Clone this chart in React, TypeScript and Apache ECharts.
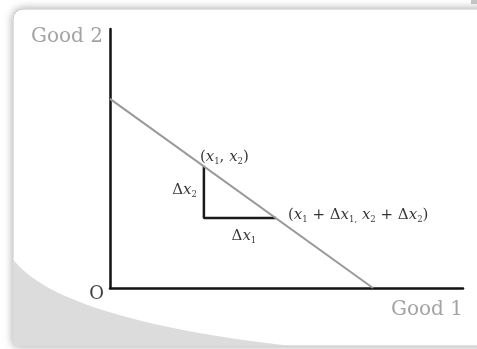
import React, { useEffect, useRef } from "react";
import * as echarts from "echarts";

// data (abstract units)
const axisMax = [10, 10];
const budgetLine: [number, number][] = [
  [0, 7.3],
  [7.45, 0],
];
const pointA: [number, number] = [2.66, 4.69];
const pointB: [number, number] = [4.7, 2.7];
const corner: [number, number] = [pointA[0], pointB[1]];
const axisNames = ["Good 1", "Good 2"];
const originLabel = "O";

const SERIF = "'DejaVu Serif', 'Liberation Serif', serif";

const mathRich = {
  n: { fontFamily: SERIF, fontSize: 15, color: "#000" },
  i: { fontFamily: SERIF, fontSize: 15, fontStyle: "italic", color: "#000" },
  s: { fontFamily: SERIF, fontSize: 8.5, color: "#000", padding: [10, 0, 0, 0] },
};

const labelA = "{n|(}{i|x}{s|1}{n|, }{i|x}{s|2}{n|)}";
const labelB = "{n|(}{i|x}{s|1}{n| + Δ}{i|x}{s|1,}{n| }{i|x}{s|2}{n| + Δ}{i|x}{s|2}{n|)}";
const labelDx1 = "{n|Δ}{i|x}{s|1}";
const labelDx2 = "{n|Δ}{i|x}{s|2}";

export default function App() {
  const ref = useRef<HTMLDivElement>(null);
  useEffect(() => {
    if (!ref.current) return;
    echarts.graphic.registerShape(
      "swoosh",
      echarts.graphic.extendPath(
        "M13,259 C35,290 110,326 292,346 L17,346 Q13,346 13,342 Z",
        {}
      )
    );
    const chart = echarts.init(ref.current, null, { renderer: "svg" });
    const mk = (
      value: [number, number],
      text: string,
      align: string,
      offset: [number, number],
      extra: any = {}
    ) => ({
      value,
      label: {
        show: true,
        formatter: text,
        position: [0, 0],
        align,
        verticalAlign: "middle",
        offset,
        rich: mathRich,
        ...extra,
      },
    });
    const axisCommon = {
      type: "value",
      min: 0,
      axisLine: { show: true, lineStyle: { color: "#111", width: 2.5 } },
      axisTick: { show: false },
      axisLabel: { show: false },
      splitLine: { show: false },
    };
    chart.setOption({
      animation: false,
      graphic: [
        {
          type: "rect",
          z: -20,
          shape: { x: 13, y: 9, width: 490, height: 337, r: [10, 0, 0, 4] },
          style: {
            fill: "#fff",
            stroke: "#c4c4c4",
            lineWidth: 1,
            shadowBlur: 8,
            shadowColor: "rgba(0,0,0,0.35)",
          },
        },
        {
          type: "swoosh",
          z: -19,
          style: { fill: "#dcdcdc" },
        },
        {
          type: "rect",
          z: -21,
          shape: { x: 471, y: 0, width: 6, height: 4 },
          style: { fill: "#c8c8c8" },
        },
      ],
      grid: { left: 110, right: 14, top: 29, bottom: 61 },
      xAxis: { ...axisCommon, max: axisMax[0] },
      yAxis: { ...axisCommon, max: axisMax[1] },
      series: [
        {
          type: "line",
          data: budgetLine,
          symbol: "none",
          lineStyle: { color: "#999", width: 2 },
          z: 3,
        },
        {
          type: "line",
          data: [pointA, corner, pointB],
          symbol: "none",
          lineStyle: { color: "#1a1a1a", width: 2.5 },
          z: 2,
        },
        {
          type: "scatter",
          symbolSize: 0,
          z: 5,
          silent: true,
          data: [
            mk(pointA, labelA, "left", [-4, -11]),
            mk(
              [pointA[0], (pointA[1] + corner[1]) / 2],
              labelDx2,
              "right",
              [-7, -3]
            ),
            mk(
              [(corner[0] + pointB[0]) / 2, corner[1]],
              labelDx1,
              "center",
              [4, 17]
            ),
            mk(pointB, labelB, "left", [12, -4]),
            mk([0, 0], originLabel, "right", [-6, 4], {
              rich: {},
              fontFamily: SERIF,
              fontSize: 18,
              color: "#111",
            }),
            mk([0, axisMax[1]], axisNames[1], "right", [-7, 6], {
              rich: {},
              fontFamily: SERIF,
              fontSize: 20,
              color: "#8c8c8c",
            }),
            mk([axisMax[0], 0], axisNames[0], "right", [0, 20], {
              rich: {},
              fontFamily: SERIF,
              fontSize: 20,
              color: "#8c8c8c",
            }),
          ],
        },
      ],
    });
    return () => chart.dispose();
  }, []);
  return (
    <div
      ref={ref}
      style={{ position: "fixed", left: 0, top: 0, width: 477, height: 349 }}
    />
  );
}
